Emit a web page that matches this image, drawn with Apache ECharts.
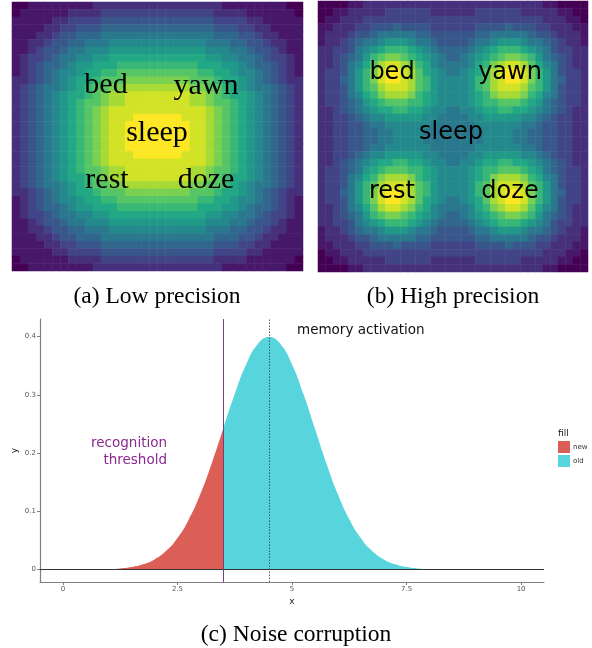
<!DOCTYPE html>
<html>
<head>
<meta charset="utf-8">
<title>Precision and noise corruption</title>
<script src="https://cdn.jsdelivr.net/npm/echarts@6/dist/echarts.min.js"></script>
<style>
  html, body { margin: 0; padding: 0; background: #fff; }
  #chart { width: 592px; height: 648px; }
</style>
</head>
<body>
<div id="chart"></div>
<script>
// heatmap levels, one hex digit per cell (0 = dark purple, f = yellow), top row first
const lowRows = [
  '001111111122222222222222221111111100',
  '011111122223333333333333322221111110',
  '111112233334444444444444433332211111',
  '111122334445555555555555544433221111',
  '111223445556666666666666655544322111',
  '112234455666777777777777666554432211',
  '112344566777888888888888777665443211',
  '123345667788999999999999887766543321',
  '1234556788999aaaaaaaaaa9998876554321',
  '12345677899aabbbbbbbbbbaa99877654321',
  '2234567899abbbccccccccbbba9987654322',
  '234566789abbccddddddddccbba987665432',
  '234567899abcddeeeeeeeeddcba998765432',
  '23456789abbcddeeeeeeeeddcbba98765432',
  '23456789abcdeeeeeeeeeeeedcba98765432',
  '23456789abcdeeeffffffeeedcba98765432',
  '23456789abcdeeffffffffeedcba98765432',
  '23456789abcdeeffffffffeedcba98765432',
  '23456789abcdeeffffffffeedcba98765432',
  '23456789abcdeeffffffffeedcba98765432',
  '23456789abcdeeeffffffeeedcba98765432',
  '23456789abcdeeeeeeeeeeeedcba98765432',
  '23456789abbcddeeeeeeeeddcbba98765432',
  '234567899abcddeeeeeeeeddcba998765432',
  '234566789abbccddddddddccbba987665432',
  '2234567899abbbccccccccbbba9987654322',
  '12345677899aabbbbbbbbbbaa99877654321',
  '1234556788999aaaaaaaaaa9998876554321',
  '123345667788999999999999887766543321',
  '112344566777888888888888777665443211',
  '112234455666777777777777666554432211',
  '111223445556666666666666655544322111',
  '111122334445555555555555544433221111',
  '111112233334444444444444433332211111',
  '011111122223333333333333322221111110',
  '001111111122222222222222221111111100'
];

const highRows = [
  '000011222222222222222222222222110000',
  '001122222333333222222333333222221100',
  '011222333333333333333333333333222110',
  '112223344454444333333444454443322211',
  '122234456666655444444556666654432221',
  '122345667888766544445667888766543221',
  '223346789aaa987655556789aaa987643322',
  '2234568abccba9876556789abccba8654322',
  '2234679bdeedca97666679acdeedb9764322',
  '233468aceffedb98766789bdeffeca864332',
  '233568aceffedba877778abdeffeca865332',
  '233468abdeeedba877778abdeeedba864332',
  '2334679acdddca98777789acdddca9764332',
  '23345689abbbaa98777789aabbba98654332',
  '2234567899aa998776677899aa9987654322',
  '223345677888887766667788888776543322',
  '223344566777777666666777777665443322',
  '223344556677776666666677776655443322',
  '223344556677776666666677776655443322',
  '223344566777777666666777777665443322',
  '223345677888887766667788888776543322',
  '2234567899aa998776677899aa9987654322',
  '23345689abbbaa98777789aabbba98654332',
  '2334679acdddca98777789acdddca9764332',
  '233468abdeeedba877778abdeeedba864332',
  '233568aceffedba877778abdeffeca865332',
  '233468aceffedb98766789bdeffeca864332',
  '2234679bdeedca97666679acdeedb9764322',
  '2234568abccba9876556789abccba8654322',
  '223346789aaa987655556789aaa987643322',
  '122345667888766544445667888766543221',
  '122234456666655444444556666654432221',
  '112223344454444333333444454443322211',
  '011222333333333333333333333333222110',
  '001122222333333222222333333222221100',
  '000011222222222222222222222222110000'
];

const lowWords = [
  { text: 'bed', x: 106, y: 85 },
  { text: 'yawn', x: 206, y: 86 },
  { text: 'sleep', x: 157, y: 133 },
  { text: 'rest', x: 107, y: 180 },
  { text: 'doze', x: 206, y: 180 }
];
const highWords = [
  { text: 'bed', x: 392, y: 73 },
  { text: 'yawn', x: 510, y: 73 },
  { text: 'sleep', x: 451, y: 133 },
  { text: 'rest', x: 392, y: 192 },
  { text: 'doze', x: 510, y: 192 }
];

// memory activation density
const densX = [0, 0.25, 0.5, 0.75, 1, 1.25, 1.5, 1.75, 2, 2.25, 2.5, 2.75, 3, 3.25, 3.5,
  3.75, 4, 4.25, 4.5, 4.75, 5, 5.25, 5.5, 5.75, 6, 6.25, 6.5, 6.75, 7, 7.25, 7.5,
  7.75, 8, 8.25, 8.5, 8.75, 9, 9.25, 9.5, 9.75, 10];
const densY = [0.00002, 0.00005, 0.00013, 0.00035, 0.00087, 0.00203, 0.00443, 0.00909, 0.0175, 0.0317, 0.054, 0.0863, 0.1295, 0.1826, 0.242,
  0.3011, 0.3521, 0.3867, 0.3989, 0.3867, 0.3521, 0.3011, 0.242, 0.1826, 0.1295, 0.0863, 0.054, 0.0317, 0.0175, 0.00909, 0.00443,
  0.00203, 0.00087, 0.00035, 0.00013, 0.00005, 0.00002, 0, 0, 0, 0];
const threshold = 3.5;
const activationMean = 4.5;

const xTicks = [0, 2.5, 5, 7.5, 10];
const yTicks = [0, 0.1, 0.2, 0.3, 0.4];

const viridis = ['#440154', '#482475', '#414487', '#355f8d', '#2a788e', '#21918c',
  '#22a884', '#44bf70', '#7ad151', '#bddf26', '#fde725'];

function gridData(rows) {
  const out = [];
  rows.forEach((row, r) => {
    for (let c = 0; c < 36; c++) out.push([c, r, parseInt(row[c], 16)]);
  });
  return out;
}

const newPts = [];
const oldPts = [];
densX.forEach((x, i) => {
  if (x <= threshold) newPts.push([x, densY[i]]);
  if (x >= threshold) oldPts.push([x, densY[i]]);
});

const cells = Array.from({ length: 36 }, (_, i) => i);

function catAxis(idx, inverse) {
  return { gridIndex: idx, type: 'category', data: cells, show: false, inverse: !!inverse };
}

function label(text, x, y, font, fill, align) {
  return {
    type: 'text', silent: true, z: 100,
    style: { text: text, x: x, y: y, font: font, fill: fill || '#000',
      textAlign: align || 'center', textVerticalAlign: 'middle',
      align: align || 'center', verticalAlign: 'middle' }
  };
}

const chart = echarts.init(document.getElementById('chart'));

const tickStyle = { fontSize: 7, color: '#555', fontFamily: 'DejaVu Sans' };
const axisGray = '#7f7f7f';
const serif = '23.5px "Liberation Serif"';

chart.setOption({
  animation: false,
  backgroundColor: '#fff',
  grid: [
    { left: 12, top: 2, width: 291, height: 269 },
    { left: 318, top: 1, width: 270, height: 271 },
    { left: 40, top: 319, width: 504, height: 263 }
  ],
  xAxis: [
    catAxis(0),
    catAxis(1),
    {
      gridIndex: 2, type: 'value', min: -0.5, max: 10.5,
      name: 'x', nameLocation: 'middle', nameGap: 15, nameMoveOverlap: false,
      nameTextStyle: { fontSize: 9, color: '#222', fontFamily: 'DejaVu Sans' },
      axisLine: { onZero: false, lineStyle: { color: axisGray, width: 1.2 } },
      axisTick: { length: 3, customValues: xTicks, lineStyle: { color: axisGray } },
      axisLabel: Object.assign({ customValues: xTicks, margin: 4 }, tickStyle),
      splitLine: { show: false }
    }
  ],
  yAxis: [
    catAxis(0, true),
    catAxis(1, true),
    {
      gridIndex: 2, type: 'value', min: -0.0213, max: 0.43,
      name: 'y', nameLocation: 'middle', nameGap: 21, nameMoveOverlap: false,
      nameTextStyle: { fontSize: 9, color: '#222', fontFamily: 'DejaVu Sans' },
      axisLine: { onZero: false, lineStyle: { color: axisGray, width: 1.2 } },
      axisTick: { length: 3, customValues: yTicks, lineStyle: { color: axisGray } },
      axisLabel: Object.assign({ customValues: yTicks, margin: 4 }, tickStyle),
      splitLine: { show: false }
    }
  ],
  visualMap: {
    type: 'continuous', show: false, min: 0, max: 15,
    seriesIndex: [0, 1], inRange: { color: viridis }
  },
  legend: {
    data: [{ name: 'new', icon: 'rect' }, { name: 'old', icon: 'rect' }],
    orient: 'vertical', left: 553, top: 436, padding: 5,
    itemWidth: 12, itemHeight: 12, itemGap: 2,
    textStyle: { fontSize: 7, color: '#333', fontFamily: 'DejaVu Sans', padding: [0, 0, 0, -2] }
  },
  series: [
    {
      name: 'low', type: 'heatmap', xAxisIndex: 0, yAxisIndex: 0,
      data: gridData(lowRows), progressive: 0, emphasis: { disabled: true }
    },
    {
      name: 'high', type: 'heatmap', xAxisIndex: 1, yAxisIndex: 1,
      data: gridData(highRows), progressive: 0, emphasis: { disabled: true }
    },
    {
      name: 'new', type: 'line', xAxisIndex: 2, yAxisIndex: 2,
      data: newPts, smooth: true, showSymbol: false,
      lineStyle: { width: 0 }, itemStyle: { color: '#dc5f57' },
      areaStyle: { color: '#dc5f57', opacity: 1 }
    },
    {
      name: 'old', type: 'line', xAxisIndex: 2, yAxisIndex: 2,
      data: oldPts, smooth: true, showSymbol: false,
      lineStyle: { width: 0 }, itemStyle: { color: '#58d4dc' },
      areaStyle: { color: '#58d4dc', opacity: 1 },
      markLine: {
        silent: true, symbol: 'none', label: { show: false },
        data: [
          { yAxis: 0, lineStyle: { color: '#333', width: 1, type: 'solid' } },
          { xAxis: threshold, lineStyle: { color: '#74407e', width: 1, type: 'solid' } },
          { xAxis: activationMean, lineStyle: { color: '#333', width: 0.8, type: [1.5, 1.5] } }
        ]
      }
    }
  ],
  graphic: [].concat(
    lowWords.map(w => label(w.text, w.x, w.y, '30px "Liberation Serif"')),
    highWords.map(w => label(w.text, w.x, w.y, '24px "DejaVu Sans"')),
    [
      label('(a) Low precision', 157, 297, serif),
      label('(b) High precision', 453, 297, serif),
      label('(c) Noise corruption', 296, 635, serif),
      label('memory activation', 297, 330, '13.5px "DejaVu Sans"', '#111', 'left'),
      {
        type: 'text', silent: true, z: 100,
        style: { text: 'recognition\nthreshold', x: 167, y: 452, font: '13.5px "DejaVu Sans"', fill: '#8b2a8e',
          lineHeight: 17, textAlign: 'right', textVerticalAlign: 'middle', align: 'right', verticalAlign: 'middle' }
      },
      label('fill', 558, 434, '9px "DejaVu Sans"', '#222', 'left')
    ]
  )
});
</script>
</body>
</html>
